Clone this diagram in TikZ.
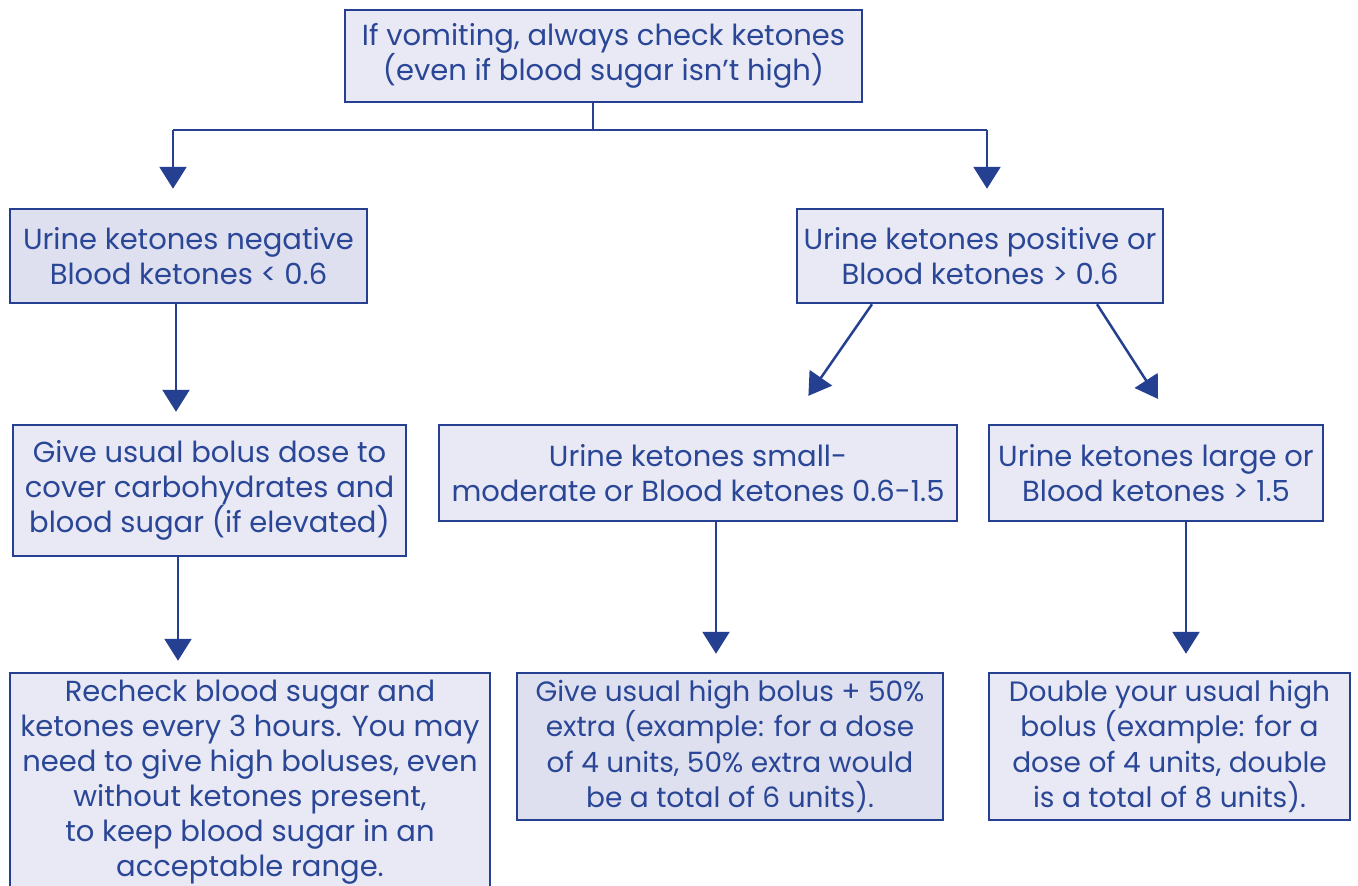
\documentclass[tikz,border=0pt]{standalone}
\usepackage{fontspec}
\setmainfont{Poppins}
\usetikzlibrary{arrows.meta,calc}
\definecolor{bdr}{RGB}{38,64,145}
\definecolor{txt}{RGB}{42,70,150}
\definecolor{fillA}{RGB}{232,233,244}
\definecolor{fillB}{RGB}{222,224,239}
\begin{document}
\begin{tikzpicture}[x=1pt,y=-1pt,
  box/.style={draw=bdr, line width=2.5pt, fill=fillA, text=txt, inner sep=0pt, align=center,
    font=\fontsize{29}{35}\selectfont},
  darkbox/.style={box, fill=fillB},
  narrowbox/.style={font=\fontsize{28}{35.5}\selectfont},
  link/.style={draw=bdr, line width=2.5pt},
  arr/.style={link, -{Triangle[length=22pt,width=27pt]}}]
\useasboundingbox (0,0) rectangle (1358,886);
\node[box, minimum width=517pt, minimum height=92pt] (top) at (603.5,56)
  {If vomiting, always check ketones\\(even if blood sugar isn’t high)};
\node[darkbox, minimum width=357pt, minimum height=94pt] (neg) at (188.5,256)
  {Urine ketones negative\\Blood ketones < 0.6};
\node[box, minimum width=366pt, minimum height=94pt] (pos) at (980,256)
  {Urine ketones positive or\\Blood ketones > 0.6};
\node[box, minimum width=393pt, minimum height=131pt] (give) at (209.5,490.5)
  {Give usual bolus dose to\\cover carbohydrates and\\blood sugar (if elevated)};
\node[box, minimum width=518pt, minimum height=96pt] (small) at (698,473)
  {Urine ketones small-\\moderate or Blood ketones 0.6-1.5};
\node[box, minimum width=334pt, minimum height=96pt] (large) at (1156,473)
  {Urine ketones large or\\Blood ketones > 1.5};
\node[box, minimum width=480pt, minimum height=218pt] (recheck) at (250,782)
  {Recheck blood sugar and\\ketones every 3 hours. You may\\need to give high boluses, even\\without ketones present,\\to keep blood sugar in an\\acceptable range.};
\node[darkbox, narrowbox, minimum width=426pt, minimum height=147pt] (high) at (730,746.5)
  {Give usual high bolus + 50\%\\extra (example: for a dose\\of 4 units, 50\% extra would\\be a total of 6 units).};
\node[box, narrowbox, minimum width=361pt, minimum height=147pt] (double) at (1169.5,746.5)
  {Double your usual high\\bolus (example: for a\\dose of 4 units, double\\is a total of 8 units).};
% connectors
\coordinate (j) at (593,130);
\coordinate (jl) at (173,130);
\coordinate (jr) at (987,130);
\draw[link] (top.south -| j) -- (j);
\draw[link] (jl) -- (jr);
\draw[arr, shorten >=19pt] (jl) -- (neg.north -| jl);
\draw[arr, shorten >=19pt] (jr) -- (pos.north -| jr);
\coordinate (c1) at (176,0);
\draw[arr, shorten >=12pt] (neg.south -| c1) -- (give.north -| c1);
\coordinate (c2) at (178,0);
\draw[arr, shorten >=11pt] (give.south -| c2) -- (recheck.north -| c2);
\draw[arr, shorten >=34pt] ($(pos.south)+(-108,0)$) -- ($(small.north)+(91,0)$);
\draw[arr, shorten >=29.5pt] ($(pos.south)+(117,0)$) -- ($(large.north)+(18,0)$);
\coordinate (c3) at (716,0);
\draw[arr, shorten >=18pt] (small.south -| c3) -- (high.north -| c3);
\coordinate (c4) at (1186,0);
\draw[arr, shorten >=18pt] (large.south -| c4) -- (double.north -| c4);
\end{tikzpicture}
\end{document}
